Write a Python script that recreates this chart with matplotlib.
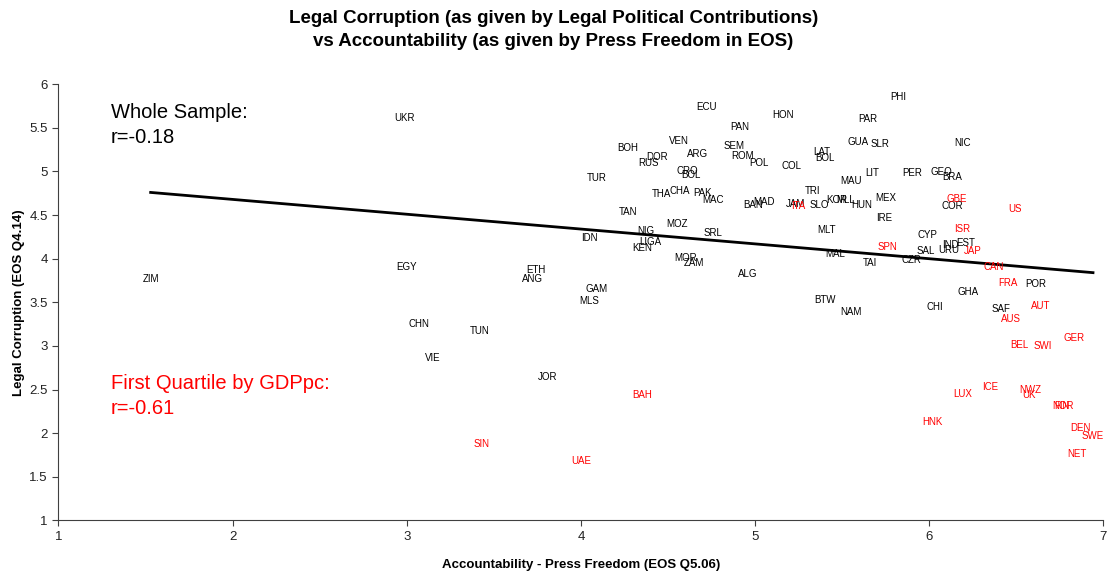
import matplotlib.pyplot as plt

plt.rcParams["font.family"] = ["Liberation Sans", "DejaVu Sans"]

# whole sample (black labels)
codes = [
    "PHI", "ECU", "HON", "PAR", "UKR", "PAN", "VEN", "SEM", "GUA", "SLR",
    "NIC", "BOH", "ARG", "ROM", "LAT", "DOR", "BOL", "RUS", "POL", "COL",
    "CRO", "BOL", "LIT", "PER", "GEO", "BRA", "TUR", "MAU", "TRI", "THA",
    "CHA", "PAK", "MAC", "MEX", "MAD", "BAN", "JAM", "SLO", "KOR", "MLL",
    "HUN", "COR", "TAN", "IRE", "MOZ", "MLT", "SRL", "CYP", "NIG", "IDN",
    "LIGA", "KEN", "IND", "EST", "URU", "SAL", "MAL", "CZR", "TAI", "MOR",
    "ZAM", "EGY", "ETH", "ANG", "ZIM", "ALG", "POR", "GAM", "GHA", "MLS",
    "BTW", "CHI", "SAF", "NAM", "CHN", "TUN", "VIE", "JOR",
]
press = [
    5.82, 4.72, 5.16, 5.65, 2.99, 4.91, 4.56, 4.88, 5.59, 5.72,
    6.19, 4.27, 4.67, 4.93, 5.38, 4.44, 5.40, 4.39, 5.02, 5.21,
    4.61, 4.63, 5.67, 5.90, 6.07, 6.13, 4.09, 5.55, 5.33, 4.46,
    4.57, 4.70, 4.76, 5.75, 5.05, 4.99, 5.23, 5.37, 5.47, 5.52,
    5.61, 6.13, 4.27, 5.74, 4.55, 5.41, 4.76, 5.99, 4.37, 4.05,
    4.40, 4.35, 6.12, 6.21, 6.11, 5.98, 5.46, 5.90, 5.66, 4.60,
    4.65, 3.00, 3.74, 3.72, 1.53, 4.96, 6.61, 4.09, 6.22, 4.05,
    5.40, 6.03, 6.41, 5.55, 3.07, 3.42, 3.15, 3.81,
]
corruption = [
    5.85, 5.74, 5.65, 5.60, 5.61, 5.51, 5.35, 5.29, 5.34, 5.32,
    5.33, 5.27, 5.20, 5.18, 5.22, 5.17, 5.16, 5.10, 5.10, 5.06,
    5.00, 4.96, 4.98, 4.98, 4.99, 4.94, 4.93, 4.89, 4.78, 4.74,
    4.78, 4.75, 4.67, 4.70, 4.65, 4.62, 4.63, 4.62, 4.67, 4.67,
    4.62, 4.60, 4.54, 4.47, 4.40, 4.33, 4.30, 4.27, 4.32, 4.24,
    4.19, 4.12, 4.16, 4.18, 4.10, 4.09, 4.05, 3.99, 3.95, 4.01,
    3.95, 3.90, 3.87, 3.77, 3.77, 3.82, 3.71, 3.65, 3.62, 3.51,
    3.53, 3.45, 3.42, 3.39, 3.25, 3.17, 2.86, 2.64,
]

# first quartile by GDP per capita (red labels)
rich_codes = [
    "GBE", "US", "ITA", "ISR", "SPN", "JAP", "CAN", "FRA", "AUT", "AUS",
    "GER", "BEL", "SWI", "BAH", "ICE", "LUX", "NWZ", "UK", "NOR", "FIN",
    "HNK", "DEN", "SWE", "SIN", "NET", "UAE",
]
rich_press = [
    6.16, 6.49, 5.25, 6.19, 5.76, 6.25, 6.37, 6.45, 6.64, 6.47,
    6.83, 6.52, 6.65, 4.35, 6.35, 6.19, 6.58, 6.57, 6.77, 6.76,
    6.02, 6.87, 6.94, 3.43, 6.85, 4.00,
]
rich_corruption = [
    4.68, 4.57, 4.60, 4.34, 4.13, 4.09, 3.91, 3.72, 3.46, 3.31,
    3.09, 3.01, 3.00, 2.44, 2.53, 2.45, 2.49, 2.44, 2.31, 2.31,
    2.13, 2.06, 1.97, 1.87, 1.76, 1.68,
]

# fitted line for the whole sample
trend_x = [1.53, 6.94]
trend_y = [4.76, 3.84]

fig = plt.figure(figsize=(11.07, 5.75), dpi=100)
ax = fig.add_axes([0.0527, 0.0951, 0.9441, 0.7583])

for c, x, y in zip(codes, press, corruption):
    ax.text(x, y, c, fontsize=7, ha="center", va="center", color="black")
for c, x, y in zip(rich_codes, rich_press, rich_corruption):
    ax.text(x, y, c, fontsize=7, ha="center", va="center", color="red")

ax.plot(trend_x, trend_y, color="black", lw=2)

ax.text(1.3, 5.53, "Whole Sample:\nr=-0.18", fontsize=14.5, color="black",
        va="center", ha="left", linespacing=1.4)
ax.text(1.3, 2.42, "First Quartile by GDPpc:\nr=-0.61", fontsize=14.5,
        color="red", va="center", ha="left", linespacing=1.4)

ax.set_xlim(1, 7)
ax.set_ylim(1, 6)
ax.set_xticks([1, 2, 3, 4, 5, 6, 7])
ax.set_yticks([1, 1.5, 2, 2.5, 3, 3.5, 4, 4.5, 5, 5.5, 6])
ax.set_yticklabels(["1", "1.5", "2", "2.5", "3", "3.5", "4", "4.5", "5", "5.5", "6"])
ax.spines["top"].set_visible(False)
ax.spines["right"].set_visible(False)
ax.spines["left"].set_color("#404040")
ax.spines["bottom"].set_color("#404040")
ax.tick_params(labelsize=9.5, length=4, color="#404040", labelcolor="#222222")

ax.set_xlabel("Accountability - Press Freedom (EOS Q5.06)", fontsize=9.5,
              fontweight="bold", labelpad=12)
ax.set_ylabel("Legal Corruption (EOS Q4.14)", fontsize=9.5, fontweight="bold",
              labelpad=3)
fig.suptitle("Legal Corruption (as given by Legal Political Contributions)\n"
             "vs Accountability (as given by Press Freedom in EOS)",
             fontsize=13.5, fontweight="bold", y=0.983, x=0.5, linespacing=1.5)

fig.savefig("out.png", dpi=100)
